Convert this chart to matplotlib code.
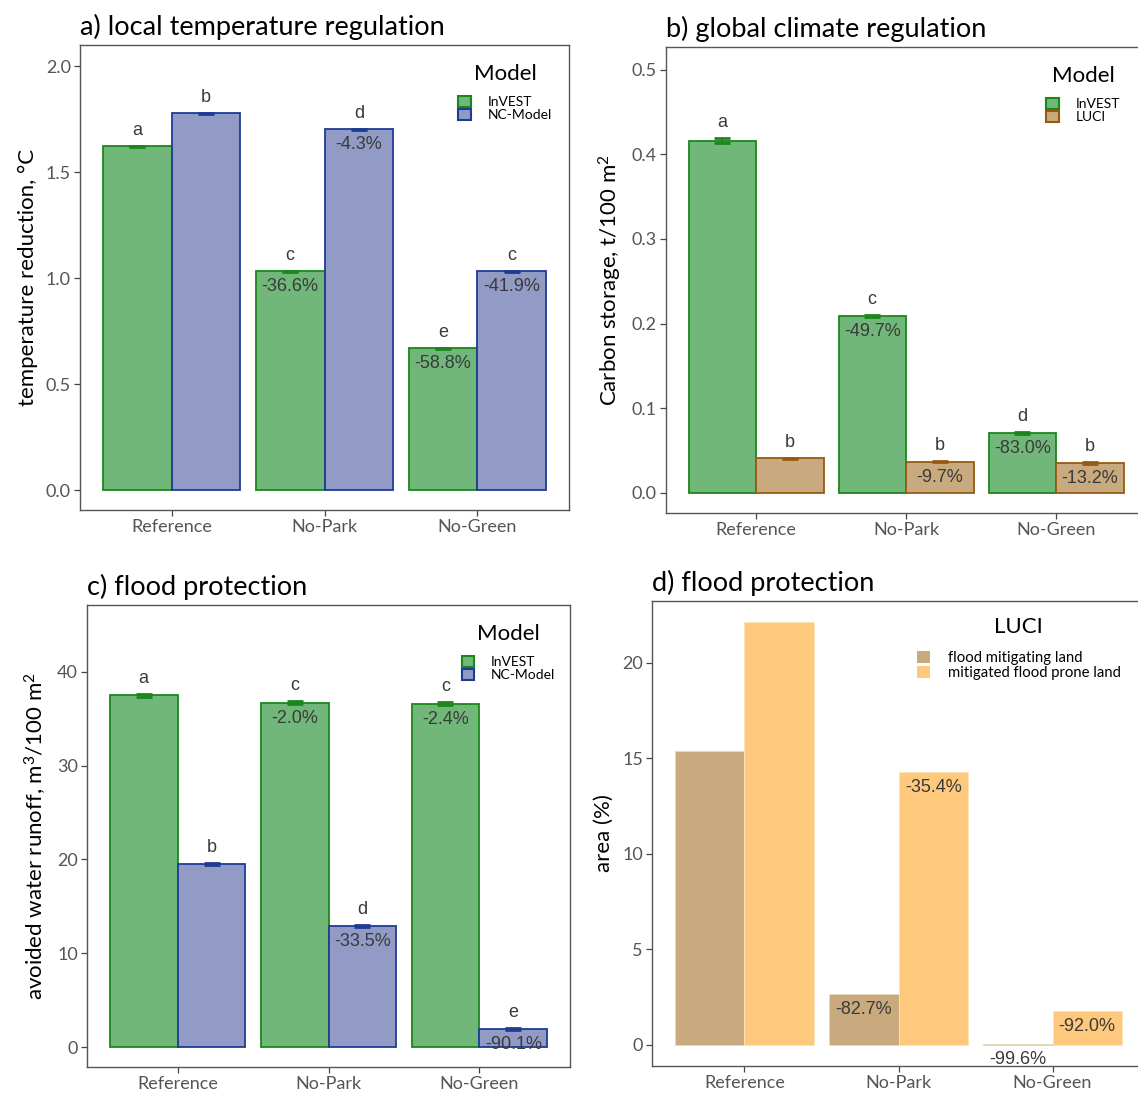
import numpy as np
import matplotlib
matplotlib.use("Agg")
import matplotlib.pyplot as plt
from matplotlib.patches import Patch

plt.rcParams['font.family'] = ['Lato', 'DejaVu Sans']
plt.rcParams['mathtext.default'] = 'regular'

# data
scenarios = ['Reference', 'No-Park', 'No-Green']

temp_invest = [1.623, 1.033, 0.670]
temp_invest_err = [0.002, 0.002, 0.002]
temp_nc = [1.778, 1.703, 1.033]
temp_nc_err = [0.002, 0.002, 0.002]
temp_letters_invest = ['a', 'c', 'e']
temp_letters_nc = ['b', 'd', 'c']
temp_pct_invest = ['', '-36.6%', '-58.8%']
temp_pct_nc = ['', '-4.3%', '-41.9%']

carbon_invest = [0.416, 0.209, 0.0705]
carbon_invest_err = [0.003, 0.001, 0.001]
carbon_luci = [0.0405, 0.0366, 0.0351]
carbon_luci_err = [0.0007, 0.0007, 0.0007]
carbon_letters_invest = ['a', 'c', 'd']
carbon_letters_luci = ['b', 'b', 'b']
carbon_pct_invest = ['', '-49.7%', '-83.0%']
carbon_pct_luci = ['', '-9.7%', '-13.2%']

runoff_invest = [37.5, 36.7, 36.6]
runoff_invest_err = [0.15, 0.15, 0.15]
runoff_nc = [19.5, 12.95, 1.93]
runoff_nc_err = [0.1, 0.1, 0.1]
runoff_letters_invest = ['a', 'c', 'c']
runoff_letters_nc = ['b', 'd', 'e']
runoff_pct_invest = ['', '-2.0%', '-2.4%']
runoff_pct_nc = ['', '-33.5%', '-90.1%']

area_mitigating = [15.4, 2.66, 0.06]
area_prone = [22.15, 14.3, 1.77]
area_pct_mitigating = ['', '-82.7%', '-99.6%']
area_pct_prone = ['', '-35.4%', '-92.0%']

GREEN, GREEN_E = '#71b77a', '#1b871b'
BLUE, BLUE_E = '#919bc5', '#1f3c94'
BROWN, BROWN_E = '#c9a97e', '#985a12'
ORANGE = '#fec97c'
TXT = '#3a3a3a'
ANN = ['Liberation Sans', 'DejaVu Sans']

W, H = 1138, 1093
fig = plt.figure(figsize=(W / 100, H / 100), dpi=100)


def px_axes(left, top, right, bottom):
    return fig.add_axes([left / W, 1 - bottom / H, (right - left) / W, (bottom - top) / H])


def style(ax, title, ylabel, ylim, yticks, ytl):
    ax.set_xlim(0.4, 3.6)
    ax.set_ylim(*ylim)
    ax.set_xticks([1, 2, 3])
    ax.set_xticklabels(scenarios)
    ax.set_yticks(yticks)
    ax.set_yticklabels(ytl)
    ax.tick_params(colors='#444444', labelsize=13, length=4, width=0.9, labelcolor='#555555', pad=2.5)
    for s in ax.spines.values():
        s.set_color('#555555')
        s.set_linewidth(1.0)
    ax.set_title(title, loc='left', fontsize=19.5, pad=7, color='black')
    ax.set_ylabel(ylabel, fontsize=16, color='black', labelpad=6)


def grouped(ax, v1, e1, v2, e2, c1, ec1, c2, ec2, let1, let2, pct1, pct2):
    x = np.arange(1, 4)
    w = 0.45
    for xs, v, e, c, ec, let, pct in [(x - w / 2, v1, e1, c1, ec1, let1, pct1),
                                       (x + w / 2, v2, e2, c2, ec2, let2, pct2)]:
        ax.bar(xs, v, width=w, color=c, edgecolor=ec, linewidth=1.3)
        ax.errorbar(xs, v, yerr=e, fmt='none', ecolor=ec, elinewidth=1.5, capsize=6, capthick=2)
        for xi, vi, ei, li, pi in zip(xs, v, e, let, pct):
            ax.annotate(li, (xi, vi + ei), xytext=(0, 5), textcoords='offset points',
                        ha='center', va='bottom', fontsize=13, color=TXT, family=ANN)
            if pi:
                ax.annotate(pi, (xi, vi), xytext=(0, -5), textcoords='offset points',
                            ha='center', va='top', fontsize=13, color=TXT, family=ANN)


def legend(ax, labels, colors, edges, title, anchor):
    handles = [Patch(facecolor=c, edgecolor=e, linewidth=1.5) for c, e in zip(colors, edges)]
    lg = ax.legend(handles, labels, title=title, loc='upper right', bbox_to_anchor=anchor,
                   frameon=False, fontsize=10, title_fontsize=16, handlelength=0.9,
                   handleheight=0.9, labelspacing=0.05, handletextpad=1.2)
    lg._legend_box.sep = 8


# a) local temperature regulation
ax = px_axes(80, 45, 569, 510)
grouped(ax, temp_invest, temp_invest_err, temp_nc, temp_nc_err, GREEN, GREEN_E, BLUE, BLUE_E,
        temp_letters_invest, temp_letters_nc, temp_pct_invest, temp_pct_nc)
style(ax, 'a) local temperature regulation', 'temperature reduction, °C',
      (-0.094, 2.1), [0, 0.5, 1, 1.5, 2], ['0.0', '0.5', '1.0', '1.5', '2.0'])
legend(ax, ['InVEST', 'NC-Model'], [GREEN, BLUE], [GREEN_E, BLUE_E], 'Model', (0.99, 0.985))

# b) global climate regulation
ax = px_axes(666, 47, 1146, 513)
grouped(ax, carbon_invest, carbon_invest_err, carbon_luci, carbon_luci_err, GREEN, GREEN_E, BROWN, BROWN_E,
        carbon_letters_invest, carbon_letters_luci, carbon_pct_invest, carbon_pct_luci)
style(ax, 'b) global climate regulation', 'Carbon storage, t/100 m$^2$',
      (-0.024, 0.527), [0, 0.1, 0.2, 0.3, 0.4, 0.5], ['0.0', '0.1', '0.2', '0.3', '0.4', '0.5'])
legend(ax, ['InVEST', 'LUCI'], [GREEN, BROWN], [GREEN_E, BROWN_E], 'Model', (0.972, 0.985))

# c) flood protection (runoff)
ax = px_axes(87, 605, 570, 1067)
grouped(ax, runoff_invest, runoff_invest_err, runoff_nc, runoff_nc_err, GREEN, GREEN_E, BLUE, BLUE_E,
        runoff_letters_invest, runoff_letters_nc, runoff_pct_invest, runoff_pct_nc)
style(ax, 'c) flood protection', 'avoided water runoff, m$^3$/100 m$^2$',
      (-2.1, 47.1), [0, 10, 20, 30, 40], ['0', '10', '20', '30', '40'])
legend(ax, ['InVEST', 'NC-Model'], [GREEN, BLUE], [GREEN_E, BLUE_E], 'Model', (0.995, 0.985))

# d) flood protection (LUCI area)
ax = px_axes(652, 601, 1145, 1066)
x = np.arange(1, 4)
w = 0.45
ax.bar(x - w / 2, area_mitigating, width=w, color=BROWN, edgecolor='#e8d8c0', linewidth=0.6)
ax.bar(x + w / 2, area_prone, width=w, color=ORANGE, edgecolor='#fde3b8', linewidth=0.6)
for xs, v, pct in [(x - w / 2, area_mitigating, area_pct_mitigating), (x + w / 2, area_prone, area_pct_prone)]:
    for xi, vi, pi in zip(xs, v, pct):
        if pi:
            ax.annotate(pi, (xi, vi), xytext=(0, -5), textcoords='offset points',
                        ha='center', va='top', fontsize=13, color=TXT, family=ANN)
style(ax, 'd) flood protection', 'area (%)', (-1.1, 23.24), [0, 5, 10, 15, 20],
      ['0', '5', '10', '15', '20'])
lg = ax.legend([Patch(facecolor=BROWN), Patch(facecolor=ORANGE)],
               ['flood mitigating land', 'mitigated flood prone land'], title='LUCI',
               loc='upper right', bbox_to_anchor=(0.978, 0.995), frameon=False, fontsize=10.7,
               title_fontsize=16, handlelength=0.9, handleheight=0.9, labelspacing=0.05,
               handletextpad=1.2)
lg._legend_box.sep = 10

fig.savefig('out.png', dpi=100)
